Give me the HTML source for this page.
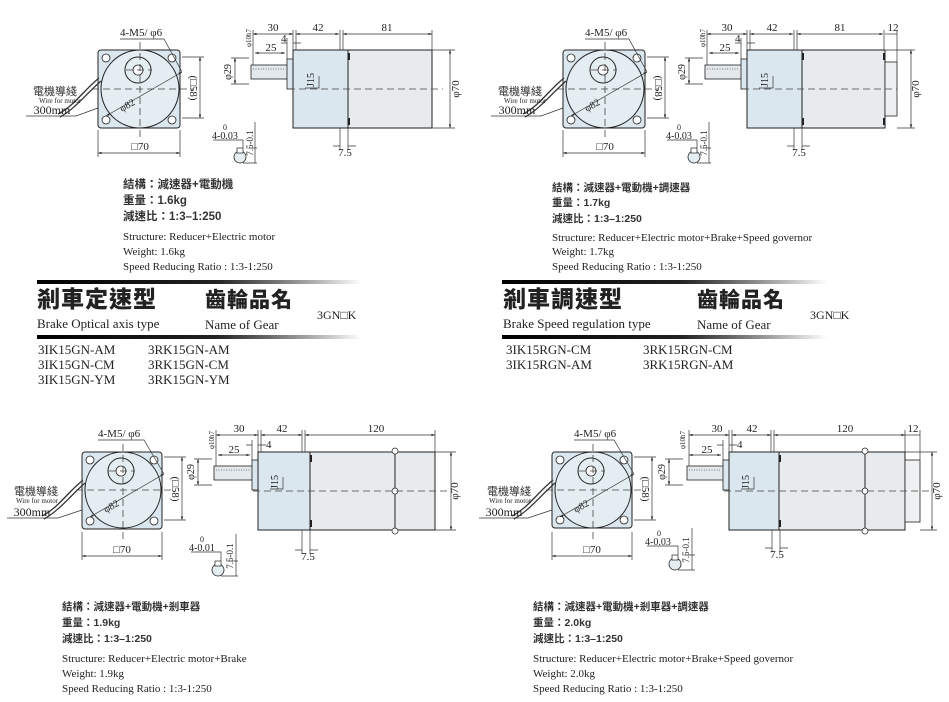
<!DOCTYPE html>
<html><head><meta charset="utf-8">
<style>
html,body{margin:0;padding:0;background:#fff;}
svg{display:block;}
.s{font-family:"Liberation Serif",serif;fill:#222;}
.c{font-family:"Liberation Sans","Noto Sans CJK TC",sans-serif;fill:#333;font-weight:bold;}
.t{font-family:"Noto Sans CJK TC","Liberation Sans",sans-serif;fill:#222;font-weight:900;}
.ln{stroke:#333;stroke-width:.7;fill:none;}
.dash{stroke:#444;stroke-width:.8;stroke-dasharray:7 4;fill:none;}
</style></head><body>
<svg width="949" height="702" viewBox="0 0 949 702" xmlns="http://www.w3.org/2000/svg">
<defs>
<marker id="a" viewBox="0 0 6 6" refX="6" refY="3" markerWidth="5" markerHeight="5" orient="auto-start-reverse"><path d="M0 1L6 3L0 5z" fill="#222"/></marker>
<linearGradient id="g" x1="0" x2="1"><stop offset="0" stop-color="#000"/><stop offset=".55" stop-color="#222"/><stop offset="1" stop-color="#000" stop-opacity="0"/></linearGradient>
</defs>

<g transform="translate(98,50)">
<rect x="0" y="0" width="82" height="78" rx="3" fill="#dbe7ee" stroke="#222"/>
<circle cx="42" cy="39" r="39" fill="#e4edf2" stroke="#222"/>
<circle cx="40" cy="20" r="13" fill="#e4edf2" stroke="#222"/>
<circle cx="40" cy="20" r="5" fill="#fff" stroke="#222" stroke-width=".8"/>
<g fill="#fff" stroke="#222" stroke-width=".8"><circle cx="8" cy="8" r="4"/><circle cx="74" cy="8" r="4"/><circle cx="8" cy="70" r="4"/><circle cx="74" cy="70" r="4"/></g>
<path class="dash" d="M-6 39H96M42 -8V90M28 20H54"/>
<path class="ln" d="M8 66L84 22" marker-start="url(#a)" marker-end="url(#a)"/>
<text class="s" font-size="10" transform="translate(24,62) rotate(-30)">φ82</text>
<path class="ln" d="M0 80V107M82 80V107"/><path class="ln" d="M0 103H82" marker-start="url(#a)" marker-end="url(#a)"/>
<text class="s" font-size="11" x="42" y="100" text-anchor="middle">□70</text>
<path class="ln" d="M84 7H106M84 68H106"/><path class="ln" d="M102 7V68" marker-start="url(#a)" marker-end="url(#a)"/>
<text class="s" font-size="11" transform="translate(92,38) rotate(90)" text-anchor="middle">(□58)</text>
<text class="s" font-size="11" x="22" y="-14">4-M5/ φ6</text>
<path class="ln" d="M22 -11H66L84 22"/>
<path d="M1 28C-14 40 -24 56 -40 64M3 31C-11 43 -22 58 -38 67" stroke="#333" stroke-width="1.3" fill="none"/>
<text class="c" font-size="11" x="-43" y="45" text-anchor="middle" style="font-weight:normal">電機導綫</text>
<text class="s" font-size="7" x="-38" y="53" text-anchor="middle">Wire for motor</text>
<text class="s" font-size="12" x="-46" y="64" text-anchor="middle">300mm</text>
<path class="ln" d="M-72 66H-22L0 58"/>
</g>
<g transform="translate(563,50)">
<rect x="0" y="0" width="82" height="78" rx="3" fill="#dbe7ee" stroke="#222"/>
<circle cx="42" cy="39" r="39" fill="#e4edf2" stroke="#222"/>
<circle cx="40" cy="20" r="13" fill="#e4edf2" stroke="#222"/>
<circle cx="40" cy="20" r="5" fill="#fff" stroke="#222" stroke-width=".8"/>
<g fill="#fff" stroke="#222" stroke-width=".8"><circle cx="8" cy="8" r="4"/><circle cx="74" cy="8" r="4"/><circle cx="8" cy="70" r="4"/><circle cx="74" cy="70" r="4"/></g>
<path class="dash" d="M-6 39H96M42 -8V90M28 20H54"/>
<path class="ln" d="M8 66L84 22" marker-start="url(#a)" marker-end="url(#a)"/>
<text class="s" font-size="10" transform="translate(24,62) rotate(-30)">φ82</text>
<path class="ln" d="M0 80V107M82 80V107"/><path class="ln" d="M0 103H82" marker-start="url(#a)" marker-end="url(#a)"/>
<text class="s" font-size="11" x="42" y="100" text-anchor="middle">□70</text>
<path class="ln" d="M84 7H106M84 68H106"/><path class="ln" d="M102 7V68" marker-start="url(#a)" marker-end="url(#a)"/>
<text class="s" font-size="11" transform="translate(92,38) rotate(90)" text-anchor="middle">(□58)</text>
<text class="s" font-size="11" x="22" y="-14">4-M5/ φ6</text>
<path class="ln" d="M22 -11H66L84 22"/>
<path d="M1 28C-14 40 -24 56 -40 64M3 31C-11 43 -22 58 -38 67" stroke="#333" stroke-width="1.3" fill="none"/>
<text class="c" font-size="11" x="-43" y="45" text-anchor="middle" style="font-weight:normal">電機導綫</text>
<text class="s" font-size="7" x="-38" y="53" text-anchor="middle">Wire for motor</text>
<text class="s" font-size="12" x="-46" y="64" text-anchor="middle">300mm</text>
<path class="ln" d="M-72 66H-22L0 58"/>
</g>
<g transform="translate(82,452)">
<rect x="0" y="0" width="80" height="77" rx="3" fill="#dbe7ee" stroke="#222"/>
<circle cx="41" cy="38" r="38" fill="#e4edf2" stroke="#222"/>
<circle cx="39" cy="19" r="13" fill="#e4edf2" stroke="#222"/>
<circle cx="39" cy="19" r="5" fill="#fff" stroke="#222" stroke-width=".8"/>
<g fill="#fff" stroke="#222" stroke-width=".8"><circle cx="8" cy="8" r="4"/><circle cx="72" cy="8" r="4"/><circle cx="8" cy="69" r="4"/><circle cx="72" cy="69" r="4"/></g>
<path class="dash" d="M-6 38H94M41 -8V88M27 19H53"/>
<path class="ln" d="M8 65L82 22" marker-start="url(#a)" marker-end="url(#a)"/>
<text class="s" font-size="10" transform="translate(24,61) rotate(-30)">φ82</text>
<path class="ln" d="M0 80V108M80 80V108"/><path class="ln" d="M0 104H80" marker-start="url(#a)" marker-end="url(#a)"/>
<text class="s" font-size="11" x="40" y="101" text-anchor="middle">□70</text>
<path class="ln" d="M82 5H104M82 68H104"/><path class="ln" d="M100 5V68" marker-start="url(#a)" marker-end="url(#a)"/>
<text class="s" font-size="11" transform="translate(90,37) rotate(90)" text-anchor="middle">(□58)</text>
<text class="s" font-size="11" x="16" y="-15">4-M5/ φ6</text>
<path class="ln" d="M16 -12H62L82 22"/>
<path d="M1 28C-14 40 -24 56 -40 64M3 31C-11 43 -22 58 -38 67" stroke="#333" stroke-width="1.3" fill="none"/>
<text class="c" font-size="11" x="-46" y="43" text-anchor="middle" style="font-weight:normal">電機導綫</text>
<text class="s" font-size="7" x="-45" y="51" text-anchor="middle">Wire for motor</text>
<text class="s" font-size="12" x="-50" y="64" text-anchor="middle">300mm</text>
<path class="ln" d="M-75 66H-24L0 58"/>
</g>
<g transform="translate(552,452)">
<rect x="0" y="0" width="80" height="76" rx="3" fill="#dbe7ee" stroke="#222"/>
<circle cx="41" cy="38" r="38" fill="#e4edf2" stroke="#222"/>
<circle cx="39" cy="19" r="13" fill="#e4edf2" stroke="#222"/>
<circle cx="39" cy="19" r="5" fill="#fff" stroke="#222" stroke-width=".8"/>
<g fill="#fff" stroke="#222" stroke-width=".8"><circle cx="8" cy="8" r="4"/><circle cx="72" cy="8" r="4"/><circle cx="8" cy="68" r="4"/><circle cx="72" cy="68" r="4"/></g>
<path class="dash" d="M-6 38H94M41 -8V88M27 19H53"/>
<path class="ln" d="M8 65L82 22" marker-start="url(#a)" marker-end="url(#a)"/>
<text class="s" font-size="10" transform="translate(24,61) rotate(-30)">φ82</text>
<path class="ln" d="M0 80V108M80 80V108"/><path class="ln" d="M0 104H80" marker-start="url(#a)" marker-end="url(#a)"/>
<text class="s" font-size="11" x="40" y="101" text-anchor="middle">□70</text>
<path class="ln" d="M82 5H104M82 68H104"/><path class="ln" d="M100 5V68" marker-start="url(#a)" marker-end="url(#a)"/>
<text class="s" font-size="11" transform="translate(90,37) rotate(90)" text-anchor="middle">(□58)</text>
<text class="s" font-size="11" x="22" y="-15">4-M5/ φ6</text>
<path class="ln" d="M22 -12H62L82 22"/>
<path d="M1 28C-14 40 -24 56 -40 64M3 31C-11 43 -22 58 -38 67" stroke="#333" stroke-width="1.3" fill="none"/>
<text class="c" font-size="11" x="-43" y="43" text-anchor="middle" style="font-weight:normal">電機導綫</text>
<text class="s" font-size="7" x="-42" y="51" text-anchor="middle">Wire for motor</text>
<text class="s" font-size="12" x="-48" y="64" text-anchor="middle">300mm</text>
<path class="ln" d="M-73 66H-24L0 58"/>
</g>

<g transform="translate(293,50)">
<rect x="-42" y="15" width="37" height="14" fill="#e2e8ec" stroke="#222" stroke-width=".8"/>
<path d="M-40 19H-8" stroke="#555" stroke-width=".8" stroke-dasharray="1 1.5"/>
<rect x="-6" y="9" width="6" height="30" fill="#dbe7ee" stroke="#222" stroke-width=".8"/>
<rect x="0" y="0" width="55" height="78" fill="#dbe7ee" stroke="#222"/>
<rect x="55" y="0" width="84" height="78" fill="#e8ebed" stroke="#222"/>
<path d="M56 3V10M56 68V75" stroke="#222" stroke-width="2"/>
<path class="dash" d="M-5 39H150"/>
<path class="ln" d="M-40 -20V15M0 -20V0M3 -20V0M47 -20V0M50 -20V0M139 -20V0"/>
<path class="ln" d="M-40 -16H0" marker-start="url(#a)" marker-end="url(#a)"/>
<path class="ln" d="M3 -16H46" marker-start="url(#a)" marker-end="url(#a)"/>
<path class="ln" d="M50 -16H139" marker-start="url(#a)" marker-end="url(#a)"/>
<text class="s" font-size="11" x="-20" y="-19" text-anchor="middle">30</text>
<text class="s" font-size="11" x="25" y="-19" text-anchor="middle">42</text>
<text class="s" font-size="11" x="94" y="-19" text-anchor="middle">81</text>
<path class="ln" d="M-6 -12V9M-12 -7H-6M0 -7H8"/>
<text class="s" font-size="11" x="-12" y="-8">4</text>
<path class="ln" d="M-38 3H-8" marker-start="url(#a)" marker-end="url(#a)"/>
<text class="s" font-size="11" x="-22" y="1" text-anchor="middle">25</text>
<text class="s" font-size="7" transform="translate(-42,-12) rotate(-90)" text-anchor="middle">φ10h7</text>
<path class="ln" d="M-62 8H-44M-62 34H-44"/><path class="ln" d="M-58 8V34" marker-start="url(#a)" marker-end="url(#a)"/>
<text class="s" font-size="10" transform="translate(-62,22) rotate(-90)" text-anchor="middle">φ29</text>
<text class="s" font-size="10" transform="translate(21,30) rotate(-90)" text-anchor="middle">J15</text>
<path class="ln" d="M12 38H26V26"/>
<path class="ln" d="M139 0H162M139 78H162"/><path class="ln" d="M157 0V78" marker-start="url(#a)" marker-end="url(#a)"/>
<text class="s" font-size="11" transform="translate(166,39) rotate(-90)" text-anchor="middle">φ70</text>
<path class="ln" d="M47 78V100M55 78V100M40 96H47M55 96H63"/>
<text class="s" font-size="11" x="52" y="106" text-anchor="middle">7.5</text>
<circle cx="-53" cy="107" r="6" fill="#e4edf2" stroke="#222" stroke-width=".8"/>
<rect x="-56" y="98" width="6" height="5" fill="#fff" stroke="#222" stroke-width=".7"/>
<path class="ln" d="M-80 90H-50V98M-50 113H-36M-44 98H-36M-38 72V113"/>
<text class="s" font-size="10" x="-81" y="89">4-0.03</text>
<text class="s" font-size="8" x="-70" y="80">0</text>
<text class="s" font-size="9" transform="translate(-40,93) rotate(-90)" text-anchor="middle">7.5-0.1</text>
</g>

<g transform="translate(747,50)">
<rect x="-42" y="15" width="37" height="14" fill="#e2e8ec" stroke="#222" stroke-width=".8"/>
<path d="M-40 19H-8" stroke="#555" stroke-width=".8" stroke-dasharray="1 1.5"/>
<rect x="-6" y="9" width="6" height="30" fill="#dbe7ee" stroke="#222" stroke-width=".8"/>
<rect x="0" y="0" width="55" height="78" fill="#dbe7ee" stroke="#222"/>
<rect x="55" y="0" width="83" height="78" fill="#e8ebed" stroke="#222"/>
<rect x="138" y="12" width="12" height="54" fill="#eef0f1" stroke="#222" stroke-width=".8"/>
<path d="M56 3V10M56 68V75M137 3V10M137 68V75" stroke="#222" stroke-width="2"/>
<path class="dash" d="M-5 39H150"/>
<path class="ln" d="M-40 -20V15M0 -20V0M3 -20V0M47 -20V0M50 -20V0M137 -20V0M150 -20V12"/>
<path class="ln" d="M-40 -16H0" marker-start="url(#a)" marker-end="url(#a)"/>
<path class="ln" d="M3 -16H46" marker-start="url(#a)" marker-end="url(#a)"/>
<path class="ln" d="M50 -16H136" marker-start="url(#a)" marker-end="url(#a)"/>
<path class="ln" d="M138 -16H150"/>
<text class="s" font-size="11" x="-20" y="-19" text-anchor="middle">30</text>
<text class="s" font-size="11" x="25" y="-19" text-anchor="middle">42</text>
<text class="s" font-size="11" x="93" y="-19" text-anchor="middle">81</text>
<text class="s" font-size="11" x="146" y="-19" text-anchor="middle">12</text>
<path class="ln" d="M-6 -12V9M-12 -7H-6M0 -7H8"/>
<text class="s" font-size="11" x="-12" y="-8">4</text>
<path class="ln" d="M-38 3H-8" marker-start="url(#a)" marker-end="url(#a)"/>
<text class="s" font-size="11" x="-22" y="1" text-anchor="middle">25</text>
<text class="s" font-size="7" transform="translate(-42,-12) rotate(-90)" text-anchor="middle">φ10h7</text>
<path class="ln" d="M-62 8H-44M-62 34H-44"/><path class="ln" d="M-58 8V34" marker-start="url(#a)" marker-end="url(#a)"/>
<text class="s" font-size="10" transform="translate(-62,22) rotate(-90)" text-anchor="middle">φ29</text>
<text class="s" font-size="10" transform="translate(21,30) rotate(-90)" text-anchor="middle">J15</text>
<path class="ln" d="M12 38H26V26"/>
<path class="ln" d="M138 0H168M150 78H168"/><path class="ln" d="M164 0V78" marker-start="url(#a)" marker-end="url(#a)"/>
<text class="s" font-size="11" transform="translate(172,39) rotate(-90)" text-anchor="middle">φ70</text>
<path class="ln" d="M47 78V100M55 78V100M40 96H47M55 96H63"/>
<text class="s" font-size="11" x="52" y="106" text-anchor="middle">7.5</text>
<circle cx="-53" cy="107" r="6" fill="#e4edf2" stroke="#222" stroke-width=".8"/>
<rect x="-56" y="98" width="6" height="5" fill="#fff" stroke="#222" stroke-width=".7"/>
<path class="ln" d="M-80 90H-50V98M-50 113H-36M-44 98H-36M-38 72V113"/>
<text class="s" font-size="10" x="-81" y="89">4-0.03</text>
<text class="s" font-size="8" x="-70" y="80">0</text>
<text class="s" font-size="9" transform="translate(-40,93) rotate(-90)" text-anchor="middle">7.5-0.1</text>
</g>

<g transform="translate(258,452)">
<rect x="-44" y="14" width="39" height="14" fill="#e2e8ec" stroke="#222" stroke-width=".8"/>
<path d="M-42 18H-8" stroke="#555" stroke-width=".8" stroke-dasharray="1 1.5"/>
<rect x="-6" y="8" width="6" height="30" fill="#dbe7ee" stroke="#222" stroke-width=".8"/>
<rect x="0" y="0" width="52" height="78" fill="#dbe7ee" stroke="#222"/>
<rect x="52" y="0" width="125" height="78" fill="#e8ebed" stroke="#222"/>
<path d="M53 3V10M53 68V75" stroke="#222" stroke-width="2"/>
<path d="M137 0V78" stroke="#222"/>
<circle cx="137" cy="-1" r="3" fill="#fff" stroke="#222" stroke-width=".7"/>
<circle cx="137" cy="79" r="3" fill="#fff" stroke="#222" stroke-width=".7"/>
<circle cx="137" cy="39" r="3" fill="#fff" stroke="#222" stroke-width=".7"/>
<path class="dash" d="M-5 39H190"/>
<path class="ln" d="M-42 -22V14M0 -22V0M3 -22V0M44 -22V0M47 -22V0M177 -22V0"/>
<path class="ln" d="M-42 -17H0" marker-start="url(#a)" marker-end="url(#a)"/>
<path class="ln" d="M3 -17H44" marker-start="url(#a)" marker-end="url(#a)"/>
<path class="ln" d="M47 -17H177" marker-start="url(#a)" marker-end="url(#a)"/>
<text class="s" font-size="11" x="-19" y="-20" text-anchor="middle">30</text>
<text class="s" font-size="11" x="24" y="-20" text-anchor="middle">42</text>
<text class="s" font-size="11" x="118" y="-20" text-anchor="middle">120</text>
<path class="ln" d="M-6 -12V8M-12 -7H-6M0 -7H8"/>
<text class="s" font-size="11" x="8" y="-4">4</text>
<path class="ln" d="M-40 3H-8" marker-start="url(#a)" marker-end="url(#a)"/>
<text class="s" font-size="11" x="-24" y="1" text-anchor="middle">25</text>
<text class="s" font-size="7" transform="translate(-44,-12) rotate(-90)" text-anchor="middle">φ10h7</text>
<path class="ln" d="M-64 7H-46M-64 33H-46"/><path class="ln" d="M-60 7V33" marker-start="url(#a)" marker-end="url(#a)"/>
<text class="s" font-size="10" transform="translate(-64,20) rotate(-90)" text-anchor="middle">φ29</text>
<text class="s" font-size="10" transform="translate(20,30) rotate(-90)" text-anchor="middle">J15</text>
<path class="ln" d="M12 37H25V25"/>
<path class="ln" d="M177 0H198M177 78H198"/><path class="ln" d="M193 0V78" marker-start="url(#a)" marker-end="url(#a)"/>
<text class="s" font-size="11" transform="translate(200,39) rotate(-90)" text-anchor="middle">φ70</text>
<path class="ln" d="M44 78V102M52 78V102M37 98H44M52 98H60"/>
<text class="s" font-size="11" x="50" y="108" text-anchor="middle">7.5</text>
<circle cx="-40" cy="118" r="6" fill="#e4edf2" stroke="#222" stroke-width=".8"/>
<rect x="-43" y="109" width="6" height="5" fill="#fff" stroke="#222" stroke-width=".7"/>
<path class="ln" d="M-67 100H-37V109M-37 124H-20M-30 109H-20M-22 82V124"/>
<text class="s" font-size="10" x="-69" y="99">4-0.01</text>
<text class="s" font-size="8" x="-58" y="90">0</text>
<text class="s" font-size="9" transform="translate(-25,104) rotate(-90)" text-anchor="middle">7.5-0.1</text>
</g>

<g transform="translate(729,452)">
<rect x="-42" y="14" width="37" height="14" fill="#e2e8ec" stroke="#222" stroke-width=".8"/>
<path d="M-40 18H-8" stroke="#555" stroke-width=".8" stroke-dasharray="1 1.5"/>
<rect x="-6" y="8" width="6" height="30" fill="#dbe7ee" stroke="#222" stroke-width=".8"/>
<rect x="0" y="0" width="50" height="78" fill="#dbe7ee" stroke="#222"/>
<rect x="50" y="0" width="126" height="78" fill="#e8ebed" stroke="#222"/>
<rect x="176" y="8" width="15" height="62" fill="#eef0f1" stroke="#222" stroke-width=".8"/>
<path d="M51 3V10M51 68V75" stroke="#222" stroke-width="2"/>
<path d="M136 0V78" stroke="#222"/>
<circle cx="136" cy="-1" r="3" fill="#fff" stroke="#222" stroke-width=".7"/>
<circle cx="136" cy="79" r="3" fill="#fff" stroke="#222" stroke-width=".7"/>
<circle cx="136" cy="39" r="3" fill="#fff" stroke="#222" stroke-width=".7"/>
<path class="dash" d="M-5 39H200"/>
<path class="ln" d="M-40 -22V14M0 -22V0M3 -22V0M42 -22V0M45 -22V0M176 -22V0M191 -22V8"/>
<path class="ln" d="M-40 -17H0" marker-start="url(#a)" marker-end="url(#a)"/>
<path class="ln" d="M3 -17H42" marker-start="url(#a)" marker-end="url(#a)"/>
<path class="ln" d="M45 -17H176" marker-start="url(#a)" marker-end="url(#a)"/>
<path class="ln" d="M176 -17H191"/>
<text class="s" font-size="11" x="-12" y="-20" text-anchor="middle">30</text>
<text class="s" font-size="11" x="23" y="-20" text-anchor="middle">42</text>
<text class="s" font-size="11" x="116" y="-20" text-anchor="middle">120</text>
<text class="s" font-size="11" x="184" y="-20" text-anchor="middle">12</text>
<path class="ln" d="M-6 -12V8M-12 -7H-6M0 -7H8"/>
<text class="s" font-size="11" x="8" y="-4">4</text>
<path class="ln" d="M-40 3H-8" marker-start="url(#a)" marker-end="url(#a)"/>
<text class="s" font-size="11" x="-22" y="1" text-anchor="middle">25</text>
<text class="s" font-size="7" transform="translate(-44,-12) rotate(-90)" text-anchor="middle">φ10h7</text>
<path class="ln" d="M-64 7H-46M-64 33H-46"/><path class="ln" d="M-60 7V33" marker-start="url(#a)" marker-end="url(#a)"/>
<text class="s" font-size="10" transform="translate(-64,20) rotate(-90)" text-anchor="middle">φ29</text>
<text class="s" font-size="10" transform="translate(20,30) rotate(-90)" text-anchor="middle">J15</text>
<path class="ln" d="M12 37H25V25"/>
<path class="ln" d="M176 0H208M191 78H208"/><path class="ln" d="M203 0V78" marker-start="url(#a)" marker-end="url(#a)"/>
<text class="s" font-size="11" transform="translate(211,39) rotate(-90)" text-anchor="middle">φ70</text>
<path class="ln" d="M43 78V100M51 78V100M36 96H43M51 96H59"/>
<text class="s" font-size="11" x="48" y="106" text-anchor="middle">7.5</text>
<circle cx="-54" cy="112" r="6" fill="#e4edf2" stroke="#222" stroke-width=".8"/>
<rect x="-57" y="103" width="6" height="5" fill="#fff" stroke="#222" stroke-width=".7"/>
<path class="ln" d="M-82 94H-51V103M-51 118H-34M-44 103H-34M-37 76V118"/>
<text class="s" font-size="10" x="-84" y="93">4-0.03</text>
<text class="s" font-size="8" x="-72" y="84">0</text>
<text class="s" font-size="9" transform="translate(-40,98) rotate(-90)" text-anchor="middle">7.5-0.1</text>
</g>

<g font-size="11.5">
<text class="c" x="123" y="188">結構：減速器+電動機</text>
<text class="c" x="123" y="204">重量：1.6kg</text>
<text class="c" x="123" y="220">減速比：1:3–1:250</text>
</g>
<g font-size="11">
<text class="s" x="123" y="240">Structure:  Reducer+Electric motor</text>
<text class="s" x="123" y="255">Weight:  1.6kg</text>
<text class="s" x="123" y="270">Speed Reducing Ratio :  1:3-1:250</text>
</g>

<g font-size="10.5">
<text class="c" x="552" y="191">結構：減速器+電動機+調速器</text>
<text class="c" x="552" y="206">重量：1.7kg</text>
<text class="c" x="552" y="222">減速比：1:3–1:250</text>
</g>
<g font-size="11">
<text class="s" x="552" y="241">Structure:  Reducer+Electric motor+Brake+Speed governor</text>
<text class="s" x="552" y="255">Weight:  1.7kg</text>
<text class="s" x="552" y="270">Speed Reducing Ratio :  1:3-1:250</text>
</g>

<g font-size="10.5">
<text class="c" x="62" y="610">結構：減速器+電動機+剎車器</text>
<text class="c" x="62" y="626">重量：1.9kg</text>
<text class="c" x="62" y="642">減速比：1:3–1:250</text>
</g>
<g font-size="11">
<text class="s" x="62" y="662">Structure:  Reducer+Electric motor+Brake</text>
<text class="s" x="62" y="677">Weight:  1.9kg</text>
<text class="s" x="62" y="692">Speed Reducing Ratio :  1:3-1:250</text>
</g>

<g font-size="10.5">
<text class="c" x="533" y="610">結構：減速器+電動機+剎車器+調速器</text>
<text class="c" x="533" y="626">重量：2.0kg</text>
<text class="c" x="533" y="642">減速比：1:3–1:250</text>
</g>
<g font-size="11">
<text class="s" x="533" y="662">Structure:  Reducer+Electric motor+Brake+Speed governor</text>
<text class="s" x="533" y="677">Weight:  2.0kg</text>
<text class="s" x="533" y="692">Speed Reducing Ratio :  1:3-1:250</text>
</g>

<rect x="37" y="280" width="325" height="4" fill="url(#g)"/>
<rect x="37" y="335" width="325" height="4" fill="url(#g)"/>
<text class="t" x="37" y="307" font-size="23" letter-spacing="1">剎車定速型</text>
<text class="t" x="205" y="307" font-size="21" letter-spacing="1">齒輪品名</text>
<text class="s" x="317" y="319" font-size="12">3GN□K</text>
<text class="s" x="37" y="328" font-size="13">Brake Optical axis type</text>
<text class="s" x="205" y="329" font-size="13">Name of Gear</text>
<text class="s" x="38" y="354" font-size="13">3IK15GN-AM</text><text class="s" x="148" y="354" font-size="13">3RK15GN-AM</text>
<text class="s" x="38" y="369" font-size="13">3IK15GN-CM</text><text class="s" x="148" y="369" font-size="13">3RK15GN-CM</text>
<text class="s" x="38" y="384" font-size="13">3IK15GN-YM</text><text class="s" x="148" y="384" font-size="13">3RK15GN-YM</text>

<rect x="502" y="280" width="325" height="4" fill="url(#g)"/>
<rect x="502" y="335" width="325" height="4" fill="url(#g)"/>
<text class="t" x="503" y="307" font-size="23" letter-spacing="1">剎車調速型</text>
<text class="t" x="697" y="307" font-size="21" letter-spacing="1">齒輪品名</text>
<text class="s" x="810" y="319" font-size="12">3GN□K</text>
<text class="s" x="503" y="328" font-size="13">Brake Speed regulation type</text>
<text class="s" x="697" y="329" font-size="13">Name of Gear</text>
<text class="s" x="506" y="354" font-size="13">3IK15RGN-CM</text><text class="s" x="643" y="354" font-size="13">3RK15RGN-CM</text>
<text class="s" x="506" y="369" font-size="13">3IK15RGN-AM</text><text class="s" x="643" y="369" font-size="13">3RK15RGN-AM</text>
</svg>
</body></html>
